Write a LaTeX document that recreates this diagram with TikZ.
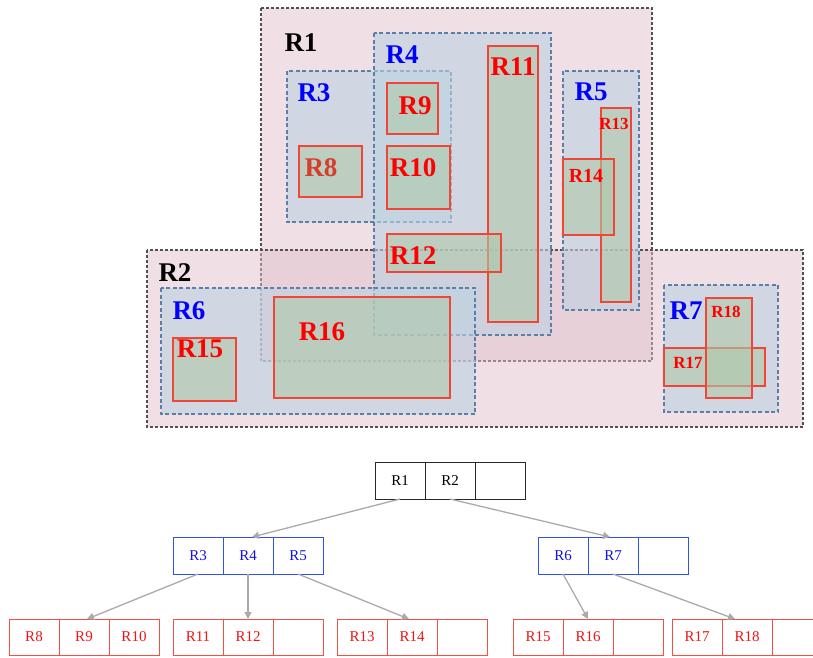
\documentclass[tikz,border=0pt]{standalone}
\usepackage{fontspec}
\setmainfont{Liberation Serif}
\usetikzlibrary{arrows.meta}
\definecolor{pinkfill}{RGB}{225,193,204}
\definecolor{grayborder}{RGB}{80,80,80}
\definecolor{bluefill}{RGB}{190,210,225}
\definecolor{blueborder}{RGB}{90,128,170}
\definecolor{greenfill}{RGB}{175,200,170}
\definecolor{redborder}{RGB}{240,70,55}
\definecolor{labblue}{RGB}{0,0,255}
\definecolor{labred}{RGB}{255,0,0}
\definecolor{labredd}{RGB}{212,62,45}
\definecolor{treeblue}{RGB}{50,80,240}
\definecolor{treetxtblue}{RGB}{20,20,220}
\definecolor{treered}{RGB}{240,80,70}
\definecolor{treetxtred}{RGB}{240,20,20}
\definecolor{arrowgray}{RGB}{170,170,170}
\tikzset{
  outerbox/.style={draw=grayborder, line width=1.1pt, dash pattern=on 3pt off 2pt, fill=pinkfill, fill opacity=0.5, draw opacity=1},
  midbox/.style={draw=blueborder, line width=1.1pt, dash pattern=on 4pt off 2.5pt, fill=bluefill, fill opacity=0.6, draw opacity=1},
  leafbox/.style={draw=redborder, line width=1.1pt, fill=greenfill, fill opacity=0.6, draw opacity=1},
  biglab/.style={inner sep=0pt, font=\fontsize{27}{27}\selectfont\bfseries},
  medlab/.style={inner sep=0pt, font=\fontsize{20}{20}\selectfont\bfseries},
  smalllab/.style={inner sep=0pt, font=\fontsize{17}{17}\selectfont\bfseries},
  cell/.style={draw, line width=1pt, minimum width=50pt, minimum height=37pt, inner sep=0pt, outer sep=0pt, font=\fontsize{15}{15}\selectfont},
  rootcell/.style={cell, draw={rgb,255:red,40;green,40;blue,40}, text=black},
  bluecell/.style={cell, draw=treeblue, text=treetxtblue},
  redcell/.style={cell, draw=treered, text=treetxtred, minimum height=36pt},
  link/.style={draw=arrowgray, line width=1.3pt, -{Triangle[length=7pt,width=7pt]}}
}
\begin{document}
\begin{tikzpicture}[x=1pt,y=-1pt]
\useasboundingbox (0,0) rectangle (813,657);
\clip (0,0) rectangle (813,657);
% outer regions
\draw[outerbox] (261,8) rectangle (652,361);
\draw[outerbox] (147,250) rectangle (803,427);
% mid regions
\draw[midbox] (287,71) rectangle (451,222);
\draw[midbox] (374,33) rectangle (551,335);
\draw[midbox] (563,71) rectangle (639,310);
\draw[midbox] (161,288) rectangle (475,414);
\draw[midbox] (664,285) rectangle (778,412);
% leaf regions
\draw[leafbox] (299,146) rectangle (362,197);
\draw[leafbox] (387,83) rectangle (438,134);
\draw[leafbox] (387,146) rectangle (450,209);
\draw[leafbox] (488,46) rectangle (538,322);
\draw[leafbox] (387,234) rectangle (501,272);
\draw[leafbox] (601,108) rectangle (631,302);
\draw[leafbox] (563,159) rectangle (614,235);
\draw[leafbox] (173,338) rectangle (236,401);
\draw[leafbox] (274,297) rectangle (450,398);
\draw[leafbox] (664,348) rectangle (765,386);
\draw[leafbox] (706,298) rectangle (752,398);
% labels
\node[biglab, text=black] (tR1) at (301,42.5) {R1};
\node[biglab, text=black] (tR2) at (175,273) {R2};
\node[biglab, text=labblue] (tR3) at (314,92.5) {R3};
\node[biglab, text=labblue] (tR4) at (402,55) {R4};
\node[biglab, text=labblue] (tR5) at (591,92) {R5};
\node[biglab, text=labblue] (tR6) at (189,311) {R6};
\node[biglab, text=labblue] (tR7) at (686,311) {R7};
\node[biglab, text=labredd] (tR8) at (321,168) {R8};
\node[biglab, text=labred] (tR9) at (415,106) {R9};
\node[biglab, text=labred] (tR10) at (413,168) {R10};
\node[biglab, text=labred] (tR11) at (513,67) {R11};
\node[biglab, text=labred] (tR12) at (413,256) {R12};
\node[smalllab, text=labred] (tR13) at (614,124) {R13};
\node[medlab, text=labred] (tR14) at (586,176) {R14};
\node[biglab, text=labred] (tR15) at (200,349) {R15};
\node[biglab, text=labred] (tR16) at (322,332) {R16};
\node[smalllab, text=labred] (tR17) at (688,363) {R17};
\node[smalllab, text=labred] (tR18) at (726,312) {R18};
% tree: root
\node[rootcell] (c1) at (400,480.5) {R1};
\node[rootcell] (c2) at (450,480.5) {R2};
\node[rootcell] (c3) at (500,480.5) {};
% tree: level 2
\node[bluecell] (b1) at (198,555.5) {R3};
\node[bluecell] (b2) at (248,555.5) {R4};
\node[bluecell] (b3) at (298,555.5) {R5};
\node[bluecell] (g1) at (563,555.5) {R6};
\node[bluecell] (g2) at (613,555.5) {R7};
\node[bluecell] (g3) at (663,555.5) {};
% tree: leaves
\node[redcell] (l1a) at (34,637) {R8};
\node[redcell] (l1b) at (84,637) {R9};
\node[redcell] (l1c) at (134,637) {R10};
\node[redcell] (l2a) at (198,637) {R11};
\node[redcell] (l2b) at (248,637) {R12};
\node[redcell] (l2c) at (298,637) {};
\node[redcell] (l3a) at (362,637) {R13};
\node[redcell] (l3b) at (412,637) {R14};
\node[redcell] (l3c) at (462,637) {};
\node[redcell] (l4a) at (538,637) {R15};
\node[redcell] (l4b) at (588,637) {R16};
\node[redcell] (l4c) at (638,637) {};
\node[redcell] (l5a) at (697,637) {R17};
\node[redcell] (l5b) at (747,637) {R18};
\node[redcell] (l5c) at (797,637) {};
% connectors
\draw[link] (c1.south) -- ([xshift=4pt]b2.north);
\draw[link] (c2.south) -- ([xshift=-3pt]g2.north);
\draw[link] (b1.south) -- ([xshift=3pt]l1b.north);
\draw[link] (b2.south) -- (l2b.north);
\draw[link] (b3.south) -- ([xshift=-3pt]l3b.north);
\draw[link] (g1.south) -- (l4b.north);
\draw[link] (g2.south) -- ([xshift=-12pt]l5b.north);
\end{tikzpicture}
\end{document}
